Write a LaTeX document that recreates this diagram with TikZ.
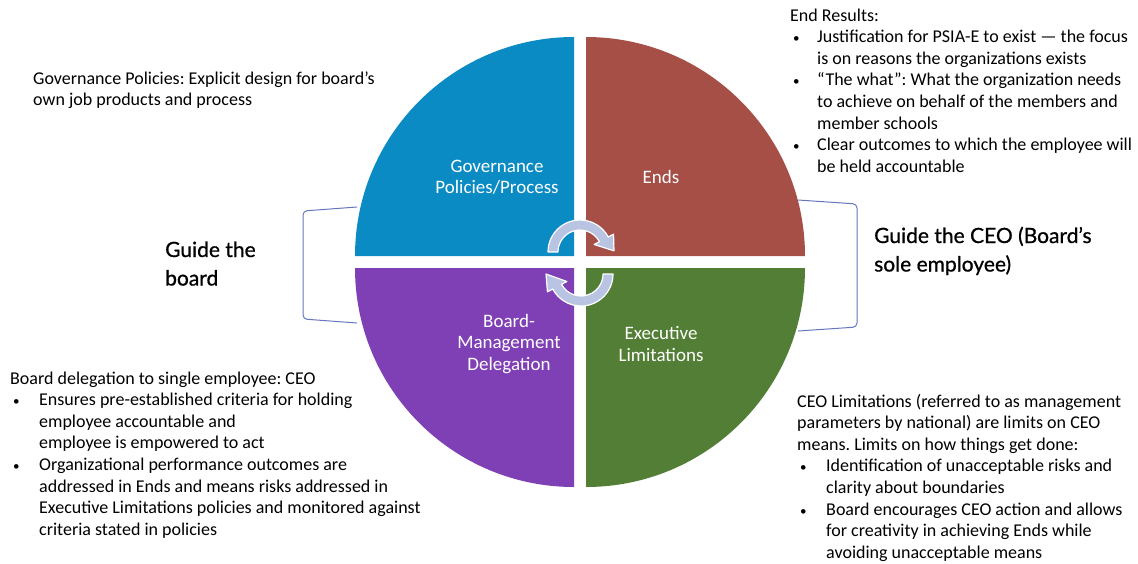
\documentclass[tikz,border=0pt]{standalone}
\usepackage{fontspec}
\setmainfont{Carlito}
\newfontfamily\guidefont[FakeBold=0.8]{Lato}
\frenchspacing

\definecolor{govblue}{HTML}{0A8BC4}
\definecolor{endsred}{HTML}{A54F47}
\definecolor{execgreen}{HTML}{527F35}
\definecolor{delegpurple}{HTML}{7F3FB5}
\definecolor{cyclefill}{HTML}{B8C4E2}
\definecolor{bracketblue}{HTML}{6676BE}

% bullet column and plain indent for the text blocks
\newcommand{\dotmark}{{\fontsize{13}{13}\selectfont •}}
\newcommand{\bulA}{\makebox[27pt][l]{\hspace{3pt}\dotmark}}
\newcommand{\indA}{\hspace{27pt}}
\newcommand{\bulB}{\makebox[29pt][l]{\hspace{3pt}\dotmark}}
\newcommand{\indB}{\hspace{29pt}}

\tikzset{
  quadrant/.style={draw=none},
  seglabel/.style={text=white, align=center, font=\fontsize{19}{21.5}\selectfont, inner sep=0pt},
  note/.style={anchor=base west, inner sep=0pt, font=\fontsize{18}{21.6}\selectfont},
  guide/.style={anchor=base west, inner sep=0pt, font=\guidefont\fontsize{21}{28.5}\selectfont},
  cycle/.style={fill=cyclefill, draw=white, line width=1.2pt, line join=round},
  bracket/.style={draw=bracketblue, line width=1pt, rounded corners=4pt}
}

\begin{document}
\begin{tikzpicture}[x=1pt, y=-1pt]
\useasboundingbox (0,0) rectangle (1138,563);

% four quadrants of the circle
\def\R{219}
\fill[quadrant, govblue]      (574,256) -- ++(-\R,0) arc[start angle=180, end angle=270, radius=\R] -- cycle;
\fill[quadrant, endsred]      (586,256) -- ++(0,-\R) arc[start angle=270, end angle=360, radius=\R] -- cycle;
\fill[quadrant, execgreen]    (586,268) -- ++(\R,0)  arc[start angle=0,   end angle=90,  radius=\R] -- cycle;
\fill[quadrant, delegpurple]  (574,268) -- ++(0,\R)  arc[start angle=90,  end angle=180, radius=\R] -- cycle;

% quadrant labels
\node[seglabel] (gov)   at (497,177) {Governance\\Policies/Process};
\node[seglabel] (ends)  at (661,177) {Ends};
\node[seglabel] (deleg) at (509,344) {Board-\\Management\\Delegation};
\node[seglabel] (exec)  at (661,344) {Executive\\Limitations};

% circular arrows in the middle
\coordinate (c1) at (580,252);
\coordinate (c2) at (581,274);
\fill[cycle] ([shift={(c1)}]180:32) arc[start angle=180, end angle=332, radius=32]
  -- ([shift={(c1)}]332:38) -- ([shift={(c1)}]358:34) -- ([shift={(c1)}]332:16)
  -- ([shift={(c1)}]332:22) arc[start angle=332, end angle=180, radius=22] -- cycle;
\fill[cycle] ([shift={(c2)}]0:32) arc[start angle=0, end angle=152, radius=32]
  -- ([shift={(c2)}]152:38) -- ([shift={(c2)}]180:35) -- ([shift={(c2)}]152:16)
  -- ([shift={(c2)}]152:22) arc[start angle=152, end angle=0, radius=22] -- cycle;

% brackets
\coordinate (lbt) at (357,207);
\coordinate (lbb) at (357,323);
\coordinate (rbt) at (798,200);
\coordinate (rbb) at (798,331);
\draw[bracket] (lbt) -- (303,211) -- (303,319) -- (lbb);
\draw[bracket] (rbt) -- (857,204) -- (857,327) -- (rbb);

\node[guide] (gboard) at (165,257) {\begin{tabular}[t]{@{}l@{}}Guide the\\board\end{tabular}};
\node[guide] (gceo)   at (874,243) {\begin{tabular}[t]{@{}l@{}}Guide the CEO (Board’s\\sole employee)\end{tabular}};

% descriptive notes
\node[note] (govnote) at (33,84) {\begin{tabular}[t]{@{}l@{}}
Governance Policies: Explicit design for board’s\\
own job products and process
\end{tabular}};

\node[note] (endsnote) at (790,21) {\begin{tabular}[t]{@{}l@{}}
End Results:\\
\bulA Justification for PSIA-E to exist — the focus\\
\indA is on reasons the organizations exists\\
\bulA “The what”: What the organization needs\\
\indA to achieve on behalf of the members and\\
\indA member schools\\
\bulA Clear outcomes to which the employee will\\
\indA be held accountable
\end{tabular}};

\node[note] (delegnote) at (10,384) {\begin{tabular}[t]{@{}l@{}}
Board delegation to single employee: CEO\\
\bulB Ensures pre-established criteria for holding\\
\indB employee accountable and\\
\indB employee is empowered to act\\
\bulB Organizational performance outcomes are\\
\indB addressed in Ends and means risks addressed in\\
\indB Executive Limitations policies and monitored against\\
\indB criteria stated in policies
\end{tabular}};

\node[note] (execnote) at (797,407) {\begin{tabular}[t]{@{}l@{}}
CEO Limitations (referred to as management\\
parameters by national) are limits on CEO\\
means. Limits on how things get done:\\
\bulB Identification of unacceptable risks and\\
\indB clarity about boundaries\\
\bulB Board encourages CEO action and allows\\
\indB for creativity in achieving Ends while\\
\indB avoiding unacceptable means
\end{tabular}};

\end{tikzpicture}
\end{document}
